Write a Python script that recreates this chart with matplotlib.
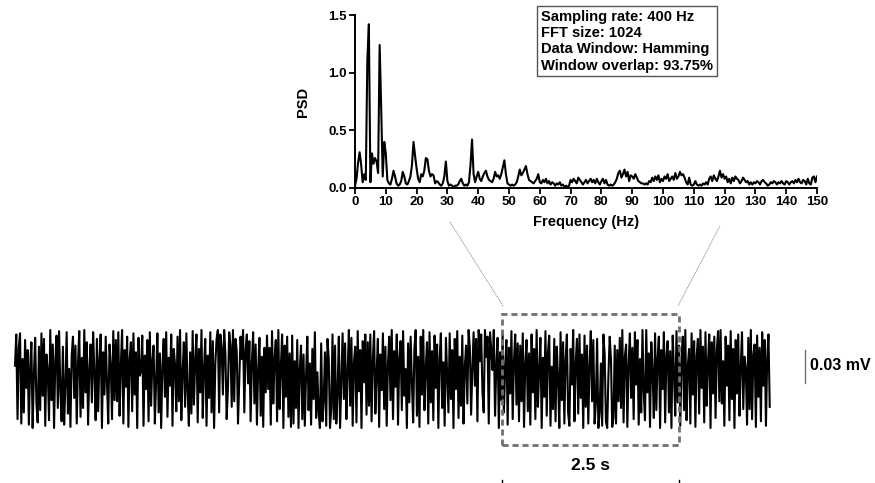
import numpy as np
import matplotlib
matplotlib.use("Agg")
import matplotlib.pyplot as plt
from matplotlib.lines import Line2D
from matplotlib.patches import Rectangle

plt.rcParams['font.family'] = ['Liberation Sans', 'DejaVu Sans']
plt.rcParams['font.weight'] = 'bold'

# ---------------- data ----------------
freq_step = 0.5  # Hz
psd = [
    0.02, 0.08, 0.22, 0.31, 0.20, 0.05, 0.12, 0.07, 1.10, 1.42, 0.05, 0.30, 0.21, 0.26, 0.23, 0.13, 1.24, 0.70, 0.10, 0.40,
    0.30, 0.07, 0.04, 0.03, 0.08, 0.15, 0.10, 0.04, 0.02, 0.03, 0.06, 0.14, 0.10, 0.04, 0.03, 0.06, 0.10, 0.20, 0.40, 0.28,
    0.17, 0.08, 0.05, 0.12, 0.10, 0.15, 0.26, 0.25, 0.15, 0.10, 0.12, 0.11, 0.04, 0.06, 0.05, 0.03, 0.02, 0.04, 0.10, 0.23,
    0.06, 0.02, 0.03, 0.02, 0.01, 0.02, 0.02, 0.03, 0.06, 0.08, 0.04, 0.02, 0.03, 0.02, 0.05, 0.20, 0.42, 0.12, 0.05, 0.10,
    0.14, 0.08, 0.06, 0.10, 0.13, 0.15, 0.10, 0.07, 0.06, 0.05, 0.08, 0.14, 0.10, 0.11, 0.08, 0.12, 0.18, 0.24, 0.12, 0.04,
    0.03, 0.02, 0.03, 0.02, 0.03, 0.05, 0.10, 0.16, 0.11, 0.13, 0.16, 0.19, 0.12, 0.07, 0.06, 0.05, 0.04, 0.06, 0.08, 0.12,
    0.05, 0.04, 0.07, 0.05, 0.08, 0.04, 0.06, 0.03, 0.05, 0.04, 0.02, 0.04, 0.03, 0.05, 0.02, 0.03, 0.01, 0.02, 0.01, 0.02,
    0.07, 0.05, 0.08, 0.06, 0.04, 0.09, 0.07, 0.05, 0.03, 0.05, 0.07, 0.04, 0.06, 0.08, 0.05, 0.07, 0.04, 0.08, 0.05, 0.03,
    0.06, 0.08, 0.04, 0.07, 0.03, 0.02, 0.03, 0.02, 0.03, 0.05, 0.08, 0.13, 0.15, 0.09, 0.12, 0.16, 0.10, 0.14, 0.06, 0.11,
    0.10, 0.08, 0.12, 0.09, 0.06, 0.05, 0.04, 0.04, 0.03, 0.04, 0.03, 0.06, 0.05, 0.09, 0.06, 0.10, 0.07, 0.11, 0.05, 0.08,
    0.06, 0.10, 0.08, 0.12, 0.06, 0.08, 0.10, 0.07, 0.13, 0.08, 0.10, 0.14, 0.11, 0.12, 0.09, 0.05, 0.03, 0.09, 0.03, 0.02,
    0.03, 0.06, 0.03, 0.02, 0.03, 0.02, 0.04, 0.03, 0.05, 0.03, 0.08, 0.10, 0.06, 0.11, 0.08, 0.06, 0.10, 0.15, 0.09, 0.12,
    0.08, 0.10, 0.05, 0.08, 0.04, 0.09, 0.06, 0.10, 0.08, 0.07, 0.04, 0.06, 0.09, 0.07, 0.05, 0.06, 0.03, 0.05, 0.03, 0.05,
    0.04, 0.06, 0.05, 0.03, 0.06, 0.07, 0.05, 0.04, 0.02, 0.03, 0.05, 0.04, 0.06, 0.05, 0.03, 0.05, 0.04, 0.06, 0.04, 0.03,
    0.06, 0.05, 0.03, 0.05, 0.06, 0.04, 0.07, 0.05, 0.08, 0.05, 0.04, 0.07, 0.06, 0.03, 0.08, 0.04, 0.03, 0.09, 0.10, 0.05,
    0.10,
]
freq = np.arange(len(psd)) * freq_step

freq_ticks = list(range(0, 151, 10))
psd_ticks = [0.0, 0.5, 1.0, 1.5]
info_lines = ["Sampling rate: 400 Hz", "FFT size: 1024",
              "Data Window: Hamming", "Window overlap: 93.75%"]

# raw trace, in microvolts
signal_uv = [
    12, 40, -36, 28, 41, -40, 18, -30, 35, -8, 26, -41, 10, 33, -44, 4, 37, -22, -39, 29,
    -28, 41, -15, 36, -42, 22, 8, -37, 44, -19, 31, -44, 17, 39, -26, 43, -10, -38, 29, -41,
    -6, 42, -31, 9, -43, 21, 38, -17, 30, -40, 14, 43, -34, 19, -26, 44, -12, 33, -41, 8,
    31, -21, 42, 6, -37, 36, -29, 17, 40, -44, 24, -14, 38, -4, -40, 31, 13, -36, 43, -19,
    35, -20, 42, -33, 12, 44, -40, 26, -7, 38, -43, 18, 33, -29, 41, -14, 24, -44, 37, 3,
    7, 39, -42, 21, -9, 35, -38, 42, -24, 16, 30, -40, -2, 41, -30, 23, -44, 11, 36, -16,
    42, -34, 19, -6, 40, -42, 27, 13, -29, 38, -20, 44, -37, 5, 33, -25, 41, -11, -42, 24,
    -31, 43, -23, 16, 40, -39, 27, -12, 44, -35, 9, 36, -42, 21, -17, 42, -30, 34, -44, 14,
    36, 44, -30, 40, 28, -14, 44, 22, -36, -8, 42, 30, -25, 44, -20, 36, 25, -40, 0, 38,
    18, 44, -30, 26, 40, -4, 34, -38, 15, 42, -22, 31, -41, 8, 37, -33, 20, -43, 28, -12,
    39, -9, 28, -41, 43, -22, 19, 35, -38, 44, -27, 11, 40, -44, 30, -16, 38, -34, 23, -43,
    39, -40, 16, -26, 35, -44, 9, 30, -36, 22, -42, 3, 38, -28, 14, -41, 27, -18, 42, -35,
    6, -30, -44, 32, -38, -20, 24, -42, 36, 18, -44, -26, 40, -36, 30, -40, -14, 38, -44, -2,
    41, -18, 32, -36, 6, 44, -24, 37, -42, 15, 29, -39, 43, -11, 26, -44, 34, -3, 40, -32,
    33, -24, 40, -38, 17, 43, -31, 5, 36, -43, 22, -10, 41, -27, 29, -42, 13, 38, -19, 44,
    -36, 25, -7, 40, -41, 19, 34, -28, 43, -15, 9, -44, 32, -21, 38, -3, -39, 27, 44, -33,
    20, -43, 38, -14, 44, -28, 10, 33, -40, 42, -21, 25, -37, 39, -8, 31, -44, 18, 41, -26,
    15, -42, 37, 2, -30, 41, -18, 26, -44, 36, -9, 43, -35, 20, -24, 39, -40, 11, 30, -22,
    44, 28, -32, 10, 42, -6, 36, -38, 44, 16, 40, -12, -30, 44, 20, 38, -40, 42, 26, 8,
    44, -33, 13, 37, -44, 24, -19, 42, -30, 9, 35, -41, 28, -13, 43, -36, 16, 40, -23, 32,
    -38, 30, -20, 41, -43, 14, 35, -29, 23, -41, 40, -12, 27, -36, 44, -25, 8, 37, -44, 19,
    -16, 43, -33, 24, 39, -42, 11, -27, 36, -38, 29, 1, -44, 42, -19, 33, -40, 17, 40, -30,
    -42, 27, -5, 44, -38, 14, 36, -31, 40, -17, 22, -44, 39, -25, 30, -40, 12, 43, -20, 35,
    -40, -22, 36, -44, -30, 14, -42, 40, 22, -38, -44, 4, 38, 18, -43, -34, 30, -40, 26, -20,
    37, -26, 44, -39, 20, 31, -43, 13, 41, -17, 28, -36, 42, -5, 35, -41, 18, -30, 44, -11,
    -37, 44, -12, 23, -43, 33, 7, -35, 41, -28, 18, 38, -44, 26, -9, 42, -39, 21, 34, -30,
    25, -44, 39, 7, -33, 43, -21, 30, -42, 16, 38, -28, 44, -37, 12, 27, -40, 41, -14, 34,
    -43, 21, 36, -31, 44, -8, 29, -39, 42, -24, 15, 40, -44, 33, -13, 38, -35, 26, 43, -20,
    44, -22, 16, -42, 38, -6, 30, -37, 43, -18, 27, -44, 35, -13, 40, -33, 11, 42, -27, 20,
    10, -41, 37, -27, 44, -36, 22, 31, -43, 39, -16, 28, -38, 42, -6, 35, -42, 19, 40, -25,
]
trace_duration_s = 10.66
zoom_window_s = (6.88, 9.38)      # the 2.5 s analysed window
scale_bar_uv = 30                 # 0.03 mV
scale_label = "0.03 mV"
time_label = "2.5 s"

# ---------------- figure ----------------
W, H = 875, 483
fig = plt.figure(figsize=(W / 100, H / 100), dpi=100)


def fx(px):
    return px / W


def fy(py):
    return 1 - py / H


# PSD inset
ax = fig.add_axes([fx(355), fy(188), fx(817) - fx(355), fy(15) - fy(188)])
ax.plot(freq, psd, color='black', lw=1.5)
ax.set_xlim(0, 150)
ax.set_ylim(0, 1.5)
ax.set_xticks(freq_ticks)
ax.set_yticks(psd_ticks)
ax.set_yticklabels([f"{v:.1f}" for v in psd_ticks])
for s in ['top', 'right']:
    ax.spines[s].set_visible(False)
for s in ['left', 'bottom']:
    ax.spines[s].set_linewidth(1.4)
ax.tick_params(direction='out', length=4, width=1.3, labelsize=9.5, pad=2)
for lab in ax.get_xticklabels() + ax.get_yticklabels():
    lab.set_fontweight('bold')
ax.set_xlabel("Frequency (Hz)", fontsize=10.5, fontweight='bold', labelpad=5)
ax.set_ylabel("PSD", fontsize=10.5, fontweight='bold', labelpad=13)
ax.set_facecolor('none')

fig.text(fx(541), fy(10), "\n".join(info_lines), ha='left', va='top',
         fontsize=10.6, fontweight='bold', linespacing=1.2,
         bbox=dict(boxstyle='square,pad=0.25', fc='white', ec='#555555', lw=1.0))

# trace axes (whole width, bottom part)
px_per_s = 70.8
px_per_uv = 1.114
t0_px, yc_px = 15, 379
axb = fig.add_axes([0, 0, 1, fy(300)])
axb.set_xlim(-t0_px / px_per_s, (W - t0_px) / px_per_s)
axb.set_ylim(-(H - yc_px) / px_per_uv, (yc_px - 300) / px_per_uv)
axb.axis('off')

t = np.linspace(0, trace_duration_s, len(signal_uv))
axb.plot(t, signal_uv, color='black', lw=1.5)

# dashed analysis window
axb.add_patch(Rectangle((zoom_window_s[0], -59), zoom_window_s[1] - zoom_window_s[0], 117,
                        fill=False, ec='#707070', lw=2.0, ls=(0, (2.2, 1.4)), zorder=5))
axb.text(np.mean(zoom_window_s), -78, time_label, ha='center', va='center',
         fontsize=12.5, fontweight='bold')
for tx in zoom_window_s:
    axb.plot([tx, tx], [-91, -93.4], color='black', lw=1.0)

# voltage scale bar
sb_x = (805 - t0_px) / px_per_s
axb.plot([sb_x, sb_x], [-3.6, -3.6 + scale_bar_uv], color='#707070', lw=1.0)
axb.text(sb_x + 0.07, 11.7, scale_label, ha='left', va='center',
         fontsize=11.5, fontweight='bold')

# connector lines from PSD to window
for (x1, y1, x2, y2) in [(450, 222, 503, 306), (720, 226, 678, 306)]:
    fig.add_artist(Line2D([fx(x1), fx(x2)], [fy(y1), fy(y2)], transform=fig.transFigure,
                          color='#808080', lw=0.6, ls=(0, (1.5, 1))))

fig.savefig("out.png", dpi=100)
